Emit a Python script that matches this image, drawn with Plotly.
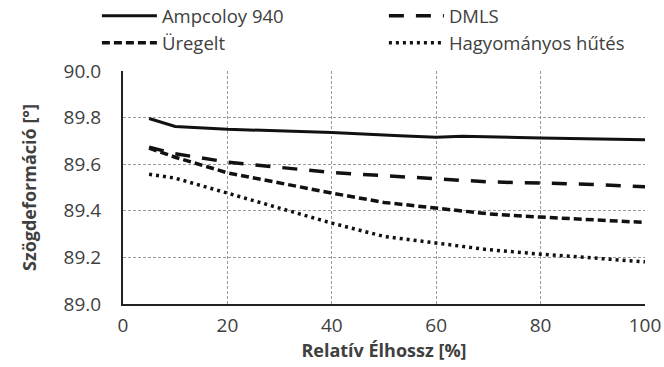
import plotly.graph_objects as go

x_amp = [5, 10, 20, 40, 53, 60, 65, 80, 100]
y_amp = [89.796, 89.762, 89.750, 89.736, 89.722, 89.716, 89.720, 89.712, 89.705]

x_dmls = [5, 10, 20, 30, 40, 50, 60, 70, 80, 90, 100]
y_dmls = [89.673, 89.645, 89.609, 89.587, 89.564, 89.551, 89.536, 89.524, 89.519, 89.513, 89.503]

x_ur = [5, 10, 20, 30, 40, 50, 60, 70, 80, 90, 100]
y_ur = [89.669, 89.630, 89.563, 89.519, 89.476, 89.436, 89.411, 89.387, 89.373, 89.361, 89.350]

x_hagy = [5, 10, 20, 30, 40, 50, 60, 70, 80, 90, 100]
y_hagy = [89.557, 89.540, 89.476, 89.411, 89.347, 89.290, 89.261, 89.233, 89.214, 89.197, 89.181]

names = ["Ampcoloy 940", "DMLS", "Üregelt", "Hagyományos hűtés"]

fig = go.Figure()
fig.add_trace(go.Scatter(x=x_amp, y=y_amp, mode="lines", name=names[0],
                         line=dict(color="#111111", width=3, dash="solid")))
fig.add_trace(go.Scatter(x=x_dmls, y=y_dmls, mode="lines", name=names[1],
                         line=dict(color="#111111", width=3.5, dash="15px,12px")))
fig.add_trace(go.Scatter(x=x_ur, y=y_ur, mode="lines", name=names[2],
                         line=dict(color="#111111", width=3.5, dash="8px,4px")))
fig.add_trace(go.Scatter(x=x_hagy, y=y_hagy, mode="lines", name=names[3],
                         line=dict(color="#111111", width=3.5, dash="3px,4px")))

font_family = "Open Sans, Noto Sans, sans-serif"
fig.update_layout(
    width=664, height=367,
    margin=dict(l=123, r=19, t=71, b=63, autoexpand=False),
    paper_bgcolor="white", plot_bgcolor="white",
    font=dict(family=font_family, size=18, color="#404040"),
    showlegend=True,
    legend=dict(orientation="h", x=-0.050, y=1.038, xanchor="left", yanchor="bottom",
                entrywidth=217, entrywidthmode="pixels", itemwidth=55,
                font=dict(size=18.5, color="#404040"), bgcolor="rgba(0,0,0,0)",
                tracegroupgap=0),
)
fig.update_xaxes(range=[0, 100], dtick=20, tick0=0, automargin=False,
                 showline=True, linecolor="#222222", linewidth=2,
                 showgrid=True, gridcolor="#9a9a9a", griddash="3px,2px", gridwidth=1,
                 ticks="outside", ticklen=3, tickcolor="rgba(0,0,0,0)",
                 tickfont=dict(size=19), zeroline=False,
                 title=dict(text="<b>Relatív Élhossz [%]</b>", font=dict(size=18, color="#404040"), standoff=3))
fig.update_yaxes(range=[89.0, 90.0], dtick=0.2, tick0=89.0, tickformat=".1f", automargin=False,
                 showline=True, linecolor="#222222", linewidth=2,
                 showgrid=True, gridcolor="#9a9a9a", griddash="3px,2px", gridwidth=1,
                 ticks="outside", ticklen=16, tickcolor="rgba(0,0,0,0)",
                 tickfont=dict(size=19), zeroline=False,
                 title=dict(text="<b>Szögdeformáció [°]</b>", font=dict(size=18, color="#404040"), standoff=22))

fig.write_html("out.html")
